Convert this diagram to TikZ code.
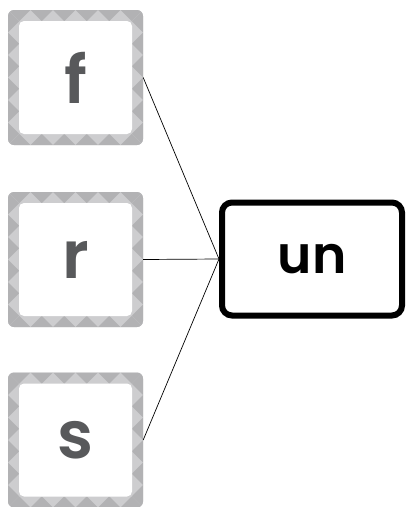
\documentclass[tikz,border=0pt]{standalone}
\usepackage{fontspec}
\setmainfont{Poppins}[UprightFont={* Medium}, BoldFont={* SemiBold}]
\usetikzlibrary{calc}

\definecolor{tileband}{HTML}{CDCDCF}
\definecolor{tiledark}{HTML}{B2B2B4}
\definecolor{lettergray}{HTML}{58595B}

\tikzset{
  tile/.style={fill=tileband, minimum size=135pt, inner sep=0pt,
    rounded corners=6pt, text=lettergray,
    font=\fontsize{66}{66}\selectfont\bfseries,
    path picture={
      % ==== zigzag band ====
      \foreach \i in {0,...,5}{
        \fill[tiledark, sharp corners] ($(path picture bounding box.north west)+(\i*22.5,0)$)
          -- ++(22.5,0) -- ++(-11.25,11) -- cycle;
        \fill[tiledark, sharp corners] ($(path picture bounding box.south west)+(\i*22.5,0)$)
          -- ++(22.5,0) -- ++(-11.25,-11) -- cycle;
        \fill[tiledark, sharp corners] ($(path picture bounding box.north west)+(0,\i*22.5)$)
          -- ++(0,22.5) -- ++(11,-11.25) -- cycle;
        \fill[tiledark, sharp corners] ($(path picture bounding box.north east)+(0,\i*22.5)$)
          -- ++(0,22.5) -- ++(-11,-11.25) -- cycle;
      }
      % ==== white face ====
      \fill[white, rounded corners=5pt]
        ($(path picture bounding box.north west)+(11,11)$) rectangle
        ($(path picture bounding box.south east)+(-11,-11)$);
    }},
  wordbox/.style={draw=black, line width=6pt, rounded corners=10pt,
    minimum width=180pt, minimum height=113pt, inner sep=0pt,
    font=\fontsize{52}{52}\selectfont\bfseries},
  link/.style={line width=0.7pt}
}

\begin{document}
\begin{tikzpicture}[x=1pt, y=-1pt]
  \useasboundingbox (0,0) rectangle (406,507);
  % ==== TILES ====
  \node[tile] (f) at (75.5,77.5) {f};
  \node[tile] (r) at (75.5,259.5) {r};
  \node[tile] (s) at (75.5,440) {s};
  % ==== WORD ====
  \node[wordbox] (un) at (312,259) {un};
  % ==== LINKS ====
  \draw[link] (f.east) -- (un.west);
  \draw[link] (r.east) -- (un.west);
  \draw[link] (s.east) -- (un.west);
\end{tikzpicture}
\end{document}
